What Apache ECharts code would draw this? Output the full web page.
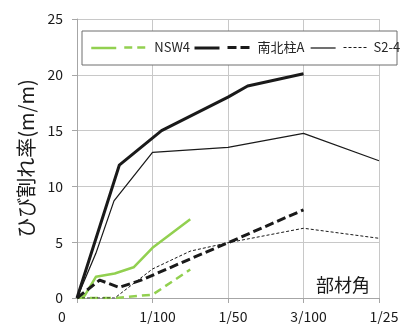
<!DOCTYPE html>
<html><head><meta charset="utf-8">
<script src="https://cdn.jsdelivr.net/npm/echarts@6/dist/echarts.min.js"></script>
<style>html,body{margin:0;padding:0;background:#fff}#c{width:411px;height:324px}</style>
</head><body><div id="c"></div>
<script>
// ---- data ----
const xTickLabels = ['0', '1/100', '1/50', '3/100', '1/25'];
const yTicks = [0, 5, 10, 15, 20, 25];

const nsw4SolidX = [0, 0.001, 0.0025, 0.005, 0.0075, 0.01, 0.015];
const nsw4SolidY = [0, 0.2, 1.9, 2.2, 2.75, 4.5, 7.05];
const nsw4DashX = [0, 0.005, 0.01, 0.015];
const nsw4DashY = [0, 0, 0.3, 2.55];

const colASolidX = [0, 0.0056, 0.0112, 0.02, 0.0226, 0.03];
const colASolidY = [0, 11.9, 15.0, 18.0, 19.0, 20.1];
const colADashX = [0, 0.003, 0.0056, 0.0085, 0.015, 0.02, 0.03];
const colADashY = [0, 1.6, 0.95, 1.6, 3.5, 4.95, 7.9];

const s24SolidX = [0, 0.0025, 0.0049, 0.01, 0.02, 0.03, 0.04];
const s24SolidY = [0, 4.0, 8.7, 13.05, 13.5, 14.75, 12.3];
const s24DotX = [0, 0.005, 0.01, 0.015, 0.02, 0.03, 0.04];
const s24DotY = [0, 0, 2.6, 4.2, 4.95, 6.25, 5.35];

const legendLabels = ['NSW4', '南北柱A', 'S2-4'];
const yAxisTitle = 'ひび割れ率(m/m)';
const xAxisTitle = '部材角';

// ---- build ----
const zip = (xs, ys) => xs.map((x, i) => [x, ys[i]]);
const FONT = '"Noto Sans CJK JP", "Noto Sans", sans-serif';
const GREEN = '#92d050';
const BLACK = '#1a1a1a';

function mk(name, xs, ys, color, width, type) {
  return {
    name, type: 'line', data: zip(xs, ys), symbol: 'none', showSymbol: false,
    lineStyle: { color, width, type, cap: 'butt', join: 'round' },
    itemStyle: { color }, animation: false, z: 3
  };
}
const series = [
  mk('NSW4 solid', nsw4SolidX, nsw4SolidY, GREEN, 2.5, 'solid'),
  mk(legendLabels[0], nsw4DashX, nsw4DashY, GREEN, 2.5, [8, 5]),
  mk('南北柱A solid', colASolidX, colASolidY, BLACK, 3, 'solid'),
  mk(legendLabels[1], colADashX, colADashY, BLACK, 3, [9, 4]),
  mk('S2-4 solid', s24SolidX, s24SolidY, BLACK, 1.25, 'solid'),
  mk(legendLabels[2], s24DotX, s24DotY, BLACK, 1, [3, 2])
];

const legendLefts = [90, 123, 193, 226, 310, 343];
const legends = series.map((s, i) => ({
  data: [s.name], left: legendLefts[i], top: 41, padding: 0,
  itemWidth: 25, itemHeight: 14, selectedMode: false,
  itemStyle: { opacity: 0, borderWidth: 0 },
  lineStyle: { width: s.lineStyle.width, type: s.lineStyle.type, color: s.lineStyle.color },
  formatter: i % 2 === 0 ? () => '' : (n) => n,
  textStyle: { fontFamily: FONT, fontSize: 13, color: '#262626' },
  z: 10
}));

const chart = echarts.init(document.getElementById('c'), null, { renderer: 'canvas' });
chart.setOption({
  animation: false,
  backgroundColor: '#fff',
  grid: { left: 77, right: 32, top: 19, bottom: 26, containLabel: false },
  legend: legends,
  xAxis: {
    type: 'value', min: 0, max: 0.04, interval: 0.01,
    axisLine: { show: true, lineStyle: { color: '#a6a6a6', width: 1 } },
    axisTick: { show: true, inside: false, length: 5, lineStyle: { color: '#a6a6a6' } },
    splitLine: { show: true, lineStyle: { color: '#c8c8c8', width: 1 } },
    axisLabel: {
      margin: 12, fontFamily: FONT, fontSize: 14, color: '#1a1a1a',
      formatter: (v) => {
        const i = Math.round(v / 0.01);
        return i === 0 ? '{z|' + xTickLabels[i] + '}' : '{o|' + xTickLabels[i] + '}';
      },
      rich: {
        z: { fontFamily: FONT, fontSize: 14, color: '#1a1a1a', padding: [0, 30, 0, 0] },
        o: { fontFamily: FONT, fontSize: 14, color: '#1a1a1a', padding: [0, 0, 0, 10] }
      }
    }
  },
  yAxis: {
    type: 'value', min: 0, max: 25, interval: 5,
    name: yAxisTitle, nameLocation: 'middle', nameGap: 39, nameRotate: 90,
    nameTextStyle: { fontFamily: FONT, fontSize: 20, color: '#1a1a1a' },
    axisLine: { show: true, lineStyle: { color: '#a6a6a6', width: 1 } },
    axisTick: { show: true, inside: false, length: 5, lineStyle: { color: '#a6a6a6' } },
    splitLine: { show: true, lineStyle: { color: '#c8c8c8', width: 1 } },
    axisLabel: {
      margin: 14, fontFamily: FONT, fontSize: 14, color: '#1a1a1a',
      formatter: (v) => String(yTicks[Math.round(v / 5)])
    }
  },
  graphic: [
    { type: 'rect', shape: { x: 82, y: 31, width: 315, height: 34 },
      style: { fill: '#fff', stroke: '#6e6e6e', lineWidth: 1 }, z: 5, silent: true },
    { type: 'text', x: 343, y: 285,
      style: { text: xAxisTitle, fontFamily: FONT, fontSize: 18, fill: '#1a1a1a',
               align: 'center', verticalAlign: 'middle' }, z: 5, silent: true }
  ],
  series
});
</script></body></html>
